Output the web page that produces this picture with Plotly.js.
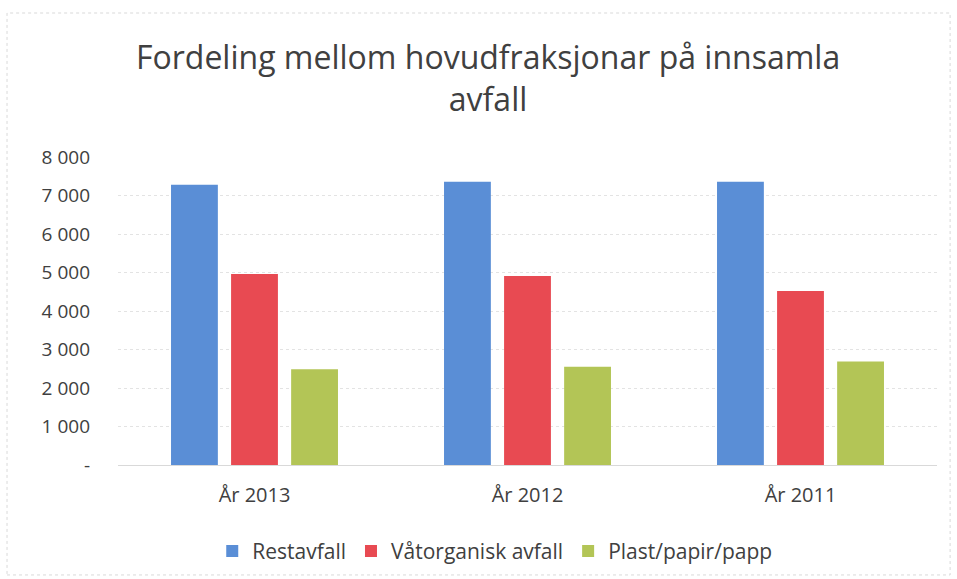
<!DOCTYPE html>
<html>
<head>
<meta charset="utf-8">
<script src="https://cdn.plot.ly/plotly-3.0.1.min.js"></script>
<style>html,body{margin:0;padding:0;background:#fff;}#chart{width:957px;height:579px;}</style>
</head>
<body>
<div id="chart"></div>
<script>
const categories = ["År 2013", "År 2012", "År 2011"];
const seriesNames = ["Restavfall", "Våtorganisk avfall", "Plast/papir/papp"];
const restavfall = [7280, 7360, 7360];
const vatorganisk = [4960, 4910, 4520];
const plast = [2490, 2555, 2690];
const yTickVals = [0, 1000, 2000, 3000, 4000, 5000, 6000, 7000, 8000];
const yTickText = ["-", "1 000", "2 000", "3 000", "4 000", "5 000", "6 000", "7 000", "8 000"];
const colors = ["#5a8ed6", "#e84a52", "#b3c556"];

const FONT = "'Open Sans', Lato, 'Liberation Sans', sans-serif";
const values = [restavfall, vatorganisk, plast];
const traces = seriesNames.map((n, i) => ({
  type: "bar", name: n, x: categories, y: values[i],
  marker: {color: colors[i], line: {width: 0}},
  hoverinfo: "skip"
}));

const layout = {
  width: 957, height: 579,
  margin: {l: 118, r: 20, t: 157, b: 114, autoexpand: false},
  paper_bgcolor: "#ffffff", plot_bgcolor: "#ffffff",
  font: {family: FONT, color: "#404040"},
  title: {text: "Fordeling mellom hovudfraksjonar på innsamla<br>avfall",
    x: 0.51, xref: "container", xanchor: "center",
    y: 0.88, yref: "container", yanchor: "middle",
    font: {family: FONT, size: 32, color: "#404040"}},
  barmode: "group", bargap: 0.34, bargroupgap: 0.22,
  xaxis: {type: "category", showgrid: false, showline: false, zeroline: false, automargin: false,
    ticks: "", tickfont: {family: FONT, size: 20, color: "#404040"}, ticklabelstandoff: 16},
  yaxis: {range: [0, 8000], tickvals: yTickVals, ticktext: yTickText, automargin: false,
    showgrid: true, gridcolor: "#e3e3e3", griddash: "dot", gridwidth: 1,
    zeroline: true, zerolinecolor: "#d9d9d9", zerolinewidth: 1,
    showline: false, ticks: "", ticklabelstandoff: 27,
    tickfont: {family: FONT, size: 19, color: "#404040"}},
  showlegend: true,
  legend: {orientation: "h", x: 0.46, xanchor: "center", y: -0.28, yanchor: "middle",
    font: {family: FONT, size: 21, color: "#404040"}, itemwidth: 30, traceorder: "normal"},
  shapes: [{type: "rect", xref: "paper", yref: "paper",
    x0: -0.1355, x1: 1.016, y0: -0.357, y1: 1.4675,
    line: {color: "#d9d9d9", width: 1, dash: "dot"}}]
};

Plotly.newPlot("chart", traces, layout, {staticPlot: true, displayModeBar: false});
</script>
</body>
</html>
